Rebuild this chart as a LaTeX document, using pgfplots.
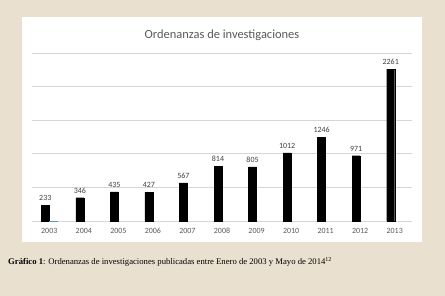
\documentclass[border=0pt]{standalone}
\usepackage{pgfplots}
\pgfplotsset{compat=1.18}
\usepackage{fontspec}
\setmainfont{Carlito}
\newfontfamily\capfont{Liberation Serif}
\definecolor{parch}{RGB}{234,224,207}
\definecolor{gridc}{RGB}{214,214,214}
\definecolor{txtc}{RGB}{89,89,89}
\definecolor{lblc}{RGB}{64,64,64}
\definecolor{blueser}{RGB}{91,155,213}
\begin{document}
\begin{tikzpicture}
\useasboundingbox (0,0) rectangle (445bp,296bp);
\fill[parch] (0,0) rectangle (445bp,296bp);
\fill[white] (22bp,54bp) rectangle (422bp,279bp);
\begin{axis}[
  at={(32bp,75bp)}, anchor=south west,
  width=380bp, height=168bp, scale only axis,
  ybar=0pt, bar width=8bp,
  xmin=-0.5, xmax=10.5, ymin=0, ymax=2500,
  xtick={0,...,10},
  xticklabels={2003,2004,2005,2006,2007,2008,2009,2010,2011,2012,2013},
  ytick={500,1000,1500,2000,2500},
  yticklabels={},
  major tick length=0pt,
  ymajorgrids, grid style={gridc, line width=0.7pt},
  axis x line*=bottom,
  x axis line style={draw=gridc, line width=0.8pt, -},
  y axis line style={draw=none},
  /pgf/number format/assume math mode=true,
  /pgf/number format/1000 sep={},
  ticklabel style={font=\fontsize{8}{9}\selectfont, text=txtc},
  xticklabel style={yshift=-4bp},
  title={Ordenanzas de investigaciones},
  title style={font=\fontsize{12.5}{14}\selectfont, text=txtc, at={(0.5,1)}, anchor=center, yshift=12bp},
  clip=false,
]
\addplot[fill=black, draw=black, nodes near coords,
  every node near coord/.append style={font=\fontsize{8}{9}\selectfont, text=lblc, yshift=1bp}]
  coordinates {(0,233) (1,346) (2,435) (3,427) (4,567) (5,814) (6,805) (7,1012) (8,1246) (9,971) (10,2261)};
\addplot[fill=blueser, draw=blueser, line width=0.3pt]
  coordinates {(0,3)};
\end{axis}
\node[anchor=west, font=\capfont\fontsize{8.7}{10}\selectfont, inner sep=0pt] at (8bp,34bp)
  {\textbf{Gráfico 1}: Ordenanzas de investigaciones publicadas entre Enero de 2003 y Mayo de 2014\textsuperscript{12}};
\end{tikzpicture}
\end{document}
